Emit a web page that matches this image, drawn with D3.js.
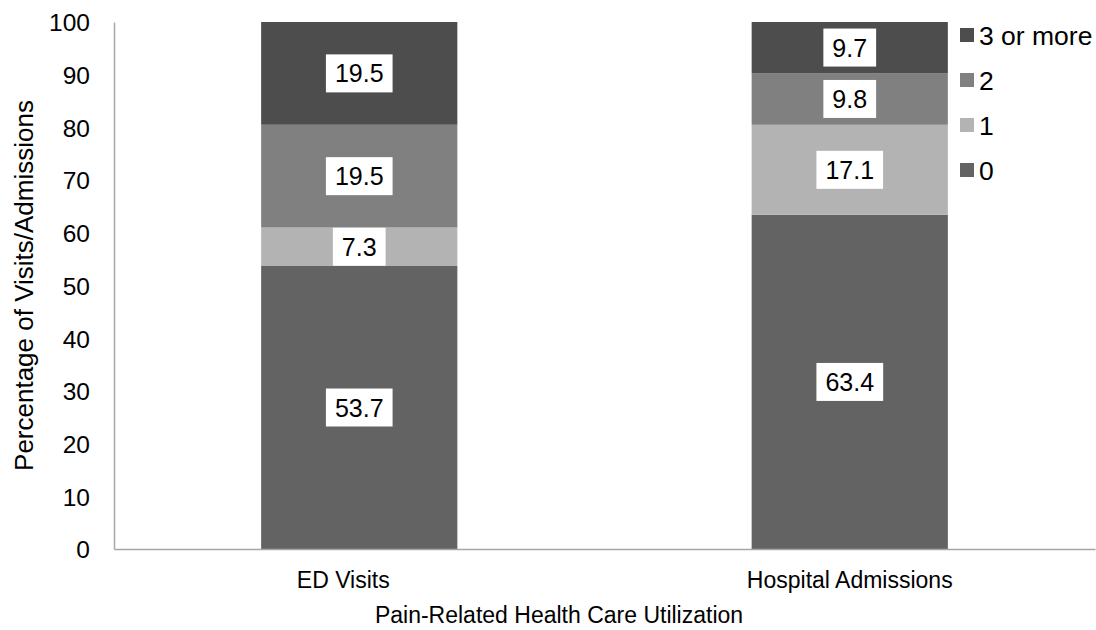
<!DOCTYPE html>
<html>
<head>
<meta charset="utf-8">
<script src="https://d3js.org/d3.v7.min.js"></script>
<style>
  body { margin: 0; background: #fff; }
  text { font-family: "Liberation Sans", Arial, sans-serif; fill: #000; }
</style>
</head>
<body>
<div id="chart"></div>
<script>
// data
var categories = ["ED Visits", "Hospital Admissions"];
var seriesNames = ["0", "1", "2", "3 or more"];
var values0 = [53.7, 63.4];
var values1 = [7.3, 17.1];
var values2 = [19.5, 9.8];
var values3 = [19.5, 9.7];
var yTicks = [0, 10, 20, 30, 40, 50, 60, 70, 80, 90, 100];

var colors = {"0": "#636363", "1": "#b3b3b3", "2": "#808080", "3 or more": "#4d4d4d"};

var width = 1096, height = 630;
var margin = {top: 22, right: 1, bottom: 81, left: 114};
var w = width - margin.left - margin.right,
    h = height - margin.top - margin.bottom;

// build rows for stacking
var rows = categories.map(function (c, i) {
  return {cat: c, "0": values0[i], "1": values1[i], "2": values2[i], "3 or more": values3[i]};
});
var stacked = d3.stack().keys(seriesNames)(rows);

var svg = d3.select("#chart").append("svg")
  .attr("width", width)
  .attr("height", height);

var g = svg.append("g")
  .attr("transform", "translate(" + margin.left + "," + margin.top + ")");

var xScale = d3.scaleBand().domain(categories).range([0, w]).paddingInner(0.6).paddingOuter(0.3);
var yScale = d3.scaleLinear().domain([0, 100]).range([h, 0]);

// bars
var layers = g.selectAll("g.layer")
  .data(stacked)
  .enter().append("g")
  .attr("class", "layer")
  .attr("fill", function (d) { return colors[d.key]; });

layers.selectAll("rect")
  .data(function (d) { return d; })
  .enter().append("rect")
  .attr("x", function (d) { return xScale(d.data.cat); })
  .attr("y", function (d) { return yScale(d[1]); })
  .attr("height", function (d) { return yScale(d[0]) - yScale(d[1]); })
  .attr("width", xScale.bandwidth());

// value labels with white boxes
stacked.forEach(function (layer) {
  layer.forEach(function (d) {
    var val = d[1] - d[0];
    var cx = xScale(d.data.cat) + xScale.bandwidth() / 2;
    var cy = (yScale(d[0]) + yScale(d[1])) / 2;
    var segH = yScale(d[0]) - yScale(d[1]);
    var lg = g.append("g");
    var t = lg.append("text")
      .attr("x", cx)
      .attr("y", cy + 9)
      .attr("text-anchor", "middle")
      .style("font-size", "25px")
      .text(d3.format(".1f")(val));
    var bb = t.node().getBBox();
    var bh = Math.min(38, segH);
    lg.insert("rect", "text")
      .attr("x", bb.x - 9)
      .attr("y", cy - bh / 2)
      .attr("width", bb.width + 18)
      .attr("height", bh)
      .attr("fill", "#fff");
  });
});

// axes
var yAxis = g.append("g")
  .call(d3.axisLeft(yScale).tickValues(yTicks).tickSize(0).tickPadding(24));
yAxis.select(".domain").attr("stroke", "#a6a6a6").attr("stroke-width", 1.5);
yAxis.selectAll("text").style("font-size", "24.5px").attr("dy", "0.36em");

var xAxis = g.append("g")
  .attr("transform", "translate(0," + h + ")")
  .call(d3.axisBottom(xScale).tickSize(0).tickPadding(23));
xAxis.select(".domain").attr("stroke", "#a6a6a6").attr("stroke-width", 1.5);
xAxis.selectAll("text").style("font-size", "23px")
  .attr("dx", function (d, i) { return i === 0 ? -16 : 0; });

// axis titles
svg.append("text")
  .attr("x", 559)
  .attr("y", 623)
  .attr("text-anchor", "middle")
  .style("font-size", "23px")
  .text("Pain-Related Health Care Utilization");

svg.append("text")
  .attr("transform", "translate(33," + (margin.top + h / 2) + ") rotate(-90)")
  .attr("text-anchor", "middle")
  .style("font-size", "26px")
  .text("Percentage of Visits/Admissions");

// legend
var legendOrder = ["3 or more", "2", "1", "0"];
var legend = svg.append("g").attr("transform", "translate(960,35)");
legendOrder.forEach(function (k, i) {
  var row = legend.append("g").attr("transform", "translate(0," + (i * 45) + ")");
  row.append("rect")
    .attr("x", 0).attr("y", -7)
    .attr("width", 14).attr("height", 14)
    .attr("fill", colors[k]);
  row.append("text")
    .attr("x", 19).attr("y", 9.5)
    .style("font-size", "26.5px")
    .text(k);
});
</script>
</body>
</html>
